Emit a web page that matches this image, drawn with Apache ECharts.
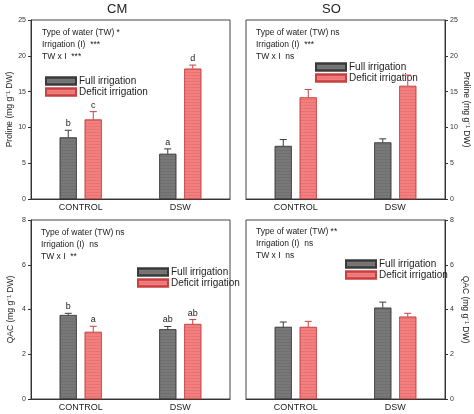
<!DOCTYPE html>
<html><head><meta charset="utf-8">
<script src="https://cdn.jsdelivr.net/npm/echarts@6/dist/echarts.min.js"></script>
<style>html,body{margin:0;padding:0;background:#fff}#c{width:474px;height:414px}</style>
</head><body><div id="c"></div>
<script>
const categories = ['CONTROL', 'DSW'];
const cmProlineFull = [8.6, 6.3], cmProlineFullErr = [1.0, 0.7];
const cmProlineDef = [11.1, 18.2], cmProlineDefErr = [1.1, 0.5];
const soProlineFull = [7.4, 7.9], soProlineFullErr = [0.9, 0.5];
const soProlineDef = [14.2, 15.8], soProlineDefErr = [1.1, 1.5];
const cmQacFull = [3.75, 3.12], cmQacFullErr = [0.08, 0.12];
const cmQacDef = [3.0, 3.35], cmQacDefErr = [0.25, 0.2];
const soQacFull = [3.22, 4.08], soQacFullErr = [0.22, 0.25];
const soQacDef = [3.22, 3.68], soQacDefErr = [0.25, 0.15];
const cmProlineFullLetters = ['b', 'a'], cmProlineDefLetters = ['c', 'd'];
const cmQacFullLetters = ['b', 'ab'], cmQacDefLetters = ['a', 'ab'];
const prolineTicks = [0, 5, 10, 15, 20, 25];
const qacTicks = [0, 2, 4, 6, 8];

const FULL = '#787878', DEF = '#f67e7e';
const grids = [
  {left: 31, top: 20, width: 199, height: 179},
  {left: 246, top: 20, width: 199, height: 179},
  {left: 31, top: 220, width: 199, height: 179},
  {left: 246, top: 220, width: 199, height: 179}
];
const panels = [
  {full: cmProlineFull, fe: cmProlineFullErr, def: cmProlineDef, de: cmProlineDefErr, fl: cmProlineFullLetters, dl: cmProlineDefLetters, ticks: prolineTicks, name: 'Proline (mg g⁻¹ DW)', right: false},
  {full: soProlineFull, fe: soProlineFullErr, def: soProlineDef, de: soProlineDefErr, fl: null, dl: null, ticks: prolineTicks, name: 'Proline (mg g⁻¹ DW)', right: true},
  {full: cmQacFull, fe: cmQacFullErr, def: cmQacDef, de: cmQacDefErr, fl: cmQacFullLetters, dl: cmQacDefLetters, ticks: qacTicks, name: 'QAC (mg g⁻¹ DW)', right: false},
  {full: soQacFull, fe: soQacFullErr, def: soQacDef, de: soQacDefErr, fl: null, dl: null, ticks: qacTicks, name: 'QAC (mg g⁻¹ DW)', right: true}
];
const xAxis = [], yAxis = [], series = [];
panels.forEach((p, i) => {
  xAxis.push({type: 'category', gridIndex: i, data: categories,
    axisLine: {lineStyle: {color: '#333'}}, axisTick: {show: false},
    axisLabel: {color: '#222', fontSize: 9, fontFamily: 'Liberation Sans', margin: 4}});
  const step = p.ticks[1] - p.ticks[0];
  yAxis.push({type: 'value', gridIndex: i, min: p.ticks[0], max: p.ticks[p.ticks.length - 1], interval: step,
    position: p.right ? 'right' : 'left', splitLine: {show: false},
    axisLine: {show: true, lineStyle: {color: '#333'}}, axisTick: {show: true, length: 3, lineStyle: {color: '#333'}},
    axisLabel: {fontSize: 7, color: '#333', margin: 5},
    name: p.name, nameLocation: 'middle', nameGap: 16, nameRotate: p.right ? -90 : 90,
    nameTextStyle: {fontSize: 8.5, color: '#222', fontFamily: 'Liberation Sans'}});
  const mk = (name, vals, color, border) => ({
    type: 'bar', name, xAxisIndex: i, yAxisIndex: i, data: vals, barWidth: 17, barGap: '47%',
    itemStyle: {color, borderColor: border, borderWidth: 0.6,
      decal: {symbol: 'rect', dashArrayX: [1, 0], dashArrayY: [1, 2], rotation: 0, color: 'rgba(0,0,0,0.08)'}}
  });
  series.push(mk('Full irrigation', p.full, FULL, '#3a3a3a'));
  series.push(mk('Deficit irrigation', p.def, DEF, '#c84040'));
  [[p.full, p.fe, p.fl, -12.5], [p.def, p.de, p.dl, 12.5]].forEach(([v, e, l, off]) => {
    series.push({type: 'custom', xAxisIndex: i, yAxisIndex: i, z: 5, silent: true,
      data: v.map((val, k) => [k, val, e[k], l ? l[k] : '']),
      renderItem: (params, api) => {
        const top = api.coord([api.value(0), api.value(1) + api.value(2)]);
        const base = api.coord([api.value(0), api.value(1)]);
        const x = top[0] + off;
        const col = off < 0 ? '#3a3a3a' : '#c84040';
        return {type: 'group', children: [
          {type: 'line', shape: {x1: x, y1: base[1], x2: x, y2: top[1]}, style: {stroke: col, lineWidth: 1}},
          {type: 'line', shape: {x1: x - 3.5, y1: top[1], x2: x + 3.5, y2: top[1]}, style: {stroke: col, lineWidth: 1}},
          {type: 'text', style: {text: String(api.value(3) || ''), x: x, y: top[1] - 2,
            align: 'center', verticalAlign: 'bottom', fontSize: 9, fill: '#222', fontFamily: 'Liberation Sans'}}
        ]};
      }});
  });
});
const legendPos = [{left: 40, top: 71}, {left: 310, top: 57}, {left: 132, top: 262}, {left: 340, top: 254}];
const legend = legendPos.map(pos => ({left: pos.left, top: pos.top, orient: 'vertical', itemGap: 1,
  itemWidth: 30, itemHeight: 7, icon: 'rect', selectedMode: false,
  textStyle: {fontSize: 10, color: '#222', fontFamily: 'Liberation Sans', padding: [0, 0, 0, -2]},
  data: ['Full irrigation', 'Deficit irrigation']}));
const stats = [
  [42, 27, ['Type of water (TW) *', 'Irrigation (I)  ***', 'TW x I  ***']],
  [256, 27, ['Type of water (TW) ns', 'Irrigation (I)  ***', 'TW x I  ns']],
  [41, 227, ['Type of water (TW) ns', 'Irrigation (I)  ns', 'TW x I  **']],
  [256, 226, ['Type of water (TW) **', 'Irrigation (I)  ns', 'TW x I  ns']]
];
const graphic = stats.map(([x, y, lines]) => ({type: 'text', left: x, top: y,
  style: {text: lines.join('\n'), fontSize: 8.5, lineHeight: 12, fill: '#222', fontFamily: 'Liberation Sans'}}));
graphic.push({type: 'text', left: 107, top: 3, style: {text: 'CM', fontSize: 13, fill: '#222', fontFamily: 'Liberation Sans'}});
graphic.push({type: 'text', left: 322, top: 3, style: {text: 'SO', fontSize: 13, fill: '#222', fontFamily: 'Liberation Sans'}});
const chart = echarts.init(document.getElementById('c'));
chart.setOption({animation: false, backgroundColor: '#fff',
  grid: grids.map(g => Object.assign({show: true, borderColor: '#444', borderWidth: 1}, g)),
  xAxis, yAxis, series, legend, graphic});
</script></body></html>
